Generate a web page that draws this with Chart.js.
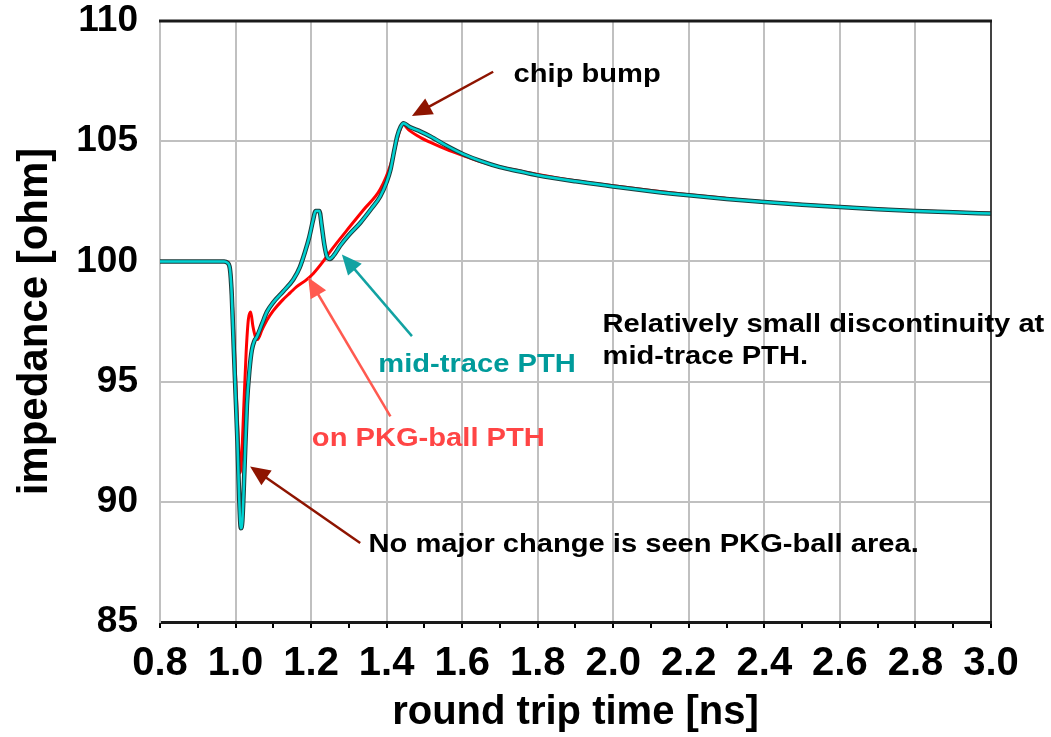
<!DOCTYPE html>
<html>
<head>
<meta charset="utf-8">
<title>TDR impedance</title>
<script src="https://cdn.jsdelivr.net/npm/chart.js@4.4.1/dist/chart.umd.min.js"></script>
<style>
  html, body { margin: 0; padding: 0; background: #fff; }
  #wrap { width: 1051px; height: 737px; }
</style>
</head>
<body>
<div id="wrap"><canvas id="tdr" width="1051" height="737"></canvas></div>
<script>
// round trip time [ns] and impedance [ohm], trace with PTH at mid-trace
const timeMid = [0.80, 0.90, 0.97, 0.978, 0.985, 0.990, 0.995, 1.000, 1.005, 1.010, 1.014, 1.018, 1.024, 1.030, 1.037, 1.043, 1.050, 1.056, 1.070, 1.083, 1.100, 1.126, 1.153, 1.170, 1.184, 1.195, 1.205, 1.212, 1.222, 1.228, 1.235, 1.242, 1.250, 1.260, 1.277, 1.300, 1.330, 1.360, 1.383, 1.400, 1.410, 1.420, 1.428, 1.437, 1.445, 1.460, 1.490, 1.516, 1.560, 1.603, 1.648, 1.700, 1.750, 1.800, 1.900, 2.000, 2.100, 2.200, 2.300, 2.400, 2.500, 2.600, 2.700, 2.800, 2.900, 3.000];
const zMid = [100.0, 100.0, 100.0, 99.95, 99.7, 98.6, 96.5, 94.5, 92.5, 90.0, 88.9, 89.2, 91.5, 94.0, 95.5, 96.3, 96.7, 96.85, 97.4, 97.9, 98.3, 98.75, 99.25, 99.75, 100.4, 101.0, 101.7, 102.1, 102.1, 101.5, 100.7, 100.2, 100.1, 100.25, 100.65, 101.1, 101.6, 102.2, 102.7, 103.3, 103.8, 104.6, 105.2, 105.6, 105.75, 105.6, 105.4, 105.2, 104.8, 104.46, 104.18, 103.92, 103.75, 103.58, 103.33, 103.12, 102.92, 102.75, 102.6, 102.47, 102.36, 102.26, 102.17, 102.1, 102.04, 101.99];

// same trace with the PTH at the package ball
const timeBall = [0.80, 0.90, 0.975, 0.982, 0.988, 0.993, 0.998, 1.003, 1.008, 1.012, 1.016, 1.022, 1.028, 1.034, 1.040, 1.046, 1.052, 1.058, 1.070, 1.083, 1.100, 1.125, 1.145, 1.162, 1.185, 1.206, 1.232, 1.250, 1.295, 1.339, 1.383, 1.410, 1.425, 1.435, 1.443, 1.460, 1.490, 1.516, 1.560, 1.603, 1.648, 1.700, 1.750, 1.800, 1.900, 2.000, 2.100, 2.200, 2.300, 2.400, 2.500, 2.600, 2.700, 2.800, 2.900, 3.000];
const zBall = [100.0, 100.0, 100.0, 99.9, 99.3, 97.8, 96.0, 94.2, 92.4, 91.2, 91.8, 94.0, 96.2, 97.6, 97.9, 97.3, 96.9, 96.75, 97.15, 97.55, 97.95, 98.4, 98.7, 98.95, 99.2, 99.5, 100.0, 100.4, 101.3, 102.15, 103.0, 104.0, 104.9, 105.45, 105.7, 105.45, 105.15, 104.95, 104.65, 104.4, 104.15, 103.93, 103.77, 103.62, 103.36, 103.15, 102.95, 102.77, 102.62, 102.48, 102.37, 102.27, 102.18, 102.11, 102.05, 102.0];

const xTickLabels = ['0.8', '1.0', '1.2', '1.4', '1.6', '1.8', '2.0', '2.2', '2.4', '2.6', '2.8', '3.0'];
const yTickLabels = ['85', '90', '95', '100', '105', '110'];

// callouts, anchored in data units (time, ohm)
const noteTexts = [
  ['chip bump'],
  ['Relatively small discontinuity at', 'mid-trace PTH.'],
  ['mid-trace PTH'],
  ['on PKG-ball PTH'],
  ['No major change is seen PKG-ball area.']
];
const noteAnchors = [[1.736, 107.46], [1.9715, 97.08], [1.378, 95.42], [1.202, 92.33], [1.352, 87.92]];
const noteColors = ['#000000', '#000000', '#009b9b', '#ff4545', '#000000'];

const arrowFrom = [[1.682, 107.89], [1.467, 96.89], [1.410, 93.55], [1.330, 88.29]];
const arrowTo = [[1.467, 106.05], [1.2815, 100.29], [1.1923, 99.33], [1.0385, 91.47]];
const arrowColors = ['#8e1400', '#12a2a2', '#ff5a50', '#8e1400'];

const pts = (xs, ys) => xs.map((x, i) => ({ x, y: ys[i] }));
const near = (v, s) => Math.abs(parseFloat(s) - v) < 1e-6;

const frame = {
  id: 'frame',
  afterDatasetsDraw(chart) {
    const { ctx, chartArea: a } = chart;
    ctx.save();
    ctx.strokeStyle = '#1a1a1a';
    ctx.lineWidth = 3;
    ctx.beginPath();
    ctx.moveTo(a.left - 1, a.top);
    ctx.lineTo(a.right + 1, a.top);
    ctx.stroke();
    ctx.lineWidth = 1.5;
    ctx.beginPath();
    ctx.moveTo(a.right, a.top);
    ctx.lineTo(a.right, a.bottom);
    ctx.stroke();
    ctx.restore();
  }
};

const callouts = {
  id: 'callouts',
  afterDraw(chart) {
    const { ctx, scales: { x, y } } = chart;
    ctx.save();
    arrowFrom.forEach((f, i) => {
      const x0 = x.getPixelForValue(f[0]), y0 = y.getPixelForValue(f[1]);
      const x1 = x.getPixelForValue(arrowTo[i][0]), y1 = y.getPixelForValue(arrowTo[i][1]);
      const len = Math.hypot(x1 - x0, y1 - y0);
      const ux = (x1 - x0) / len, uy = (y1 - y0) / len;
      const head = 20, half = 9;
      ctx.strokeStyle = arrowColors[i];
      ctx.fillStyle = arrowColors[i];
      ctx.lineWidth = 2.5;
      ctx.beginPath();
      ctx.moveTo(x0, y0);
      ctx.lineTo(x1 - ux * (head - 2), y1 - uy * (head - 2));
      ctx.stroke();
      ctx.beginPath();
      ctx.moveTo(x1, y1);
      ctx.lineTo(x1 - ux * head - uy * half, y1 - uy * head + ux * half);
      ctx.lineTo(x1 - ux * head + uy * half, y1 - uy * head - ux * half);
      ctx.closePath();
      ctx.fill();
    });
    ctx.font = 'bold 26px "Liberation Sans", Arial, sans-serif';
    ctx.textAlign = 'left';
    ctx.textBaseline = 'alphabetic';
    noteTexts.forEach((lines, i) => {
      const px = x.getPixelForValue(noteAnchors[i][0]);
      const py = y.getPixelForValue(noteAnchors[i][1]);
      ctx.fillStyle = noteColors[i];
      lines.forEach((line, k) => {
        ctx.save();
        ctx.translate(px, py + k * 32);
        ctx.scale(1.12, 1);
        ctx.fillText(line, 0, 0);
        ctx.restore();
      });
    });
    ctx.restore();
  }
};

new Chart(document.getElementById('tdr'), {
  type: 'line',
  data: {
    datasets: [
      { label: 'mid-trace PTH', data: pts(timeMid, zMid), borderColor: '#00d2d2', borderWidth: 2.5, order: 1 },
      { label: 'mid-trace PTH edge', data: pts(timeMid, zMid), borderColor: '#1c3c3c', borderWidth: 4.5, order: 2 },
      { label: 'on PKG-ball PTH', data: pts(timeBall, zBall), borderColor: '#ff0000', borderWidth: 3, order: 3 }
    ]
  },
  options: {
    responsive: false,
    animation: false,
    elements: {
      point: { radius: 0 },
      line: { cubicInterpolationMode: 'monotone', fill: false }
    },
    layout: { padding: { top: 21, right: 60, left: 0, bottom: 0 } },
    plugins: { legend: { display: false }, tooltip: { enabled: false } },
    scales: {
      x: {
        type: 'linear',
        min: 0.8,
        max: 3.0,
        afterFit: s => { s.height = 115; s.paddingLeft = 0; s.paddingRight = 0; },
        ticks: {
          stepSize: 0.1,
          autoSkip: false,
          maxRotation: 0,
          padding: 12,
          color: '#000',
          font: { family: '"Liberation Sans", Arial, sans-serif', size: 40, weight: 'bold' },
          callback: v => xTickLabels.find(s => near(v, s)) || ''
        },
        grid: {
          color: c => (Math.round(c.tick.value * 10) % 2 === 0 ? '#c0c0c0' : 'transparent'),
          lineWidth: 2,
          tickColor: '#000',
          tickLength: 6,
          tickWidth: 2
        },
        border: { color: '#1a1a1a', width: 3 },
        title: {
          display: true,
          text: 'round trip time [ns]',
          color: '#000',
          padding: { top: 0, bottom: 0 },
          font: { family: '"Liberation Sans", Arial, sans-serif', size: 40, weight: 'bold' }
        }
      },
      y: {
        min: 85,
        max: 110,
        afterFit: s => { s.width = 160; s.paddingTop = 0; s.paddingBottom = 0; },
        ticks: {
          stepSize: 5,
          padding: 22,
          color: '#000',
          font: { family: '"Liberation Sans", Arial, sans-serif', size: 37, weight: 'bold' },
          callback: v => yTickLabels.find(s => near(v, s)) || ''
        },
        grid: { color: '#c0c0c0', lineWidth: 2, drawTicks: false },
        border: { color: '#c0c0c0', width: 2 },
        title: {
          display: true,
          text: 'impedance [ohm]',
          color: '#000',
          padding: { top: 10, bottom: 0 },
          font: { family: '"Liberation Sans", Arial, sans-serif', size: 42, weight: 'bold' }
        }
      }
    }
  },
  plugins: [frame, callouts]
});
</script>
</body>
</html>
